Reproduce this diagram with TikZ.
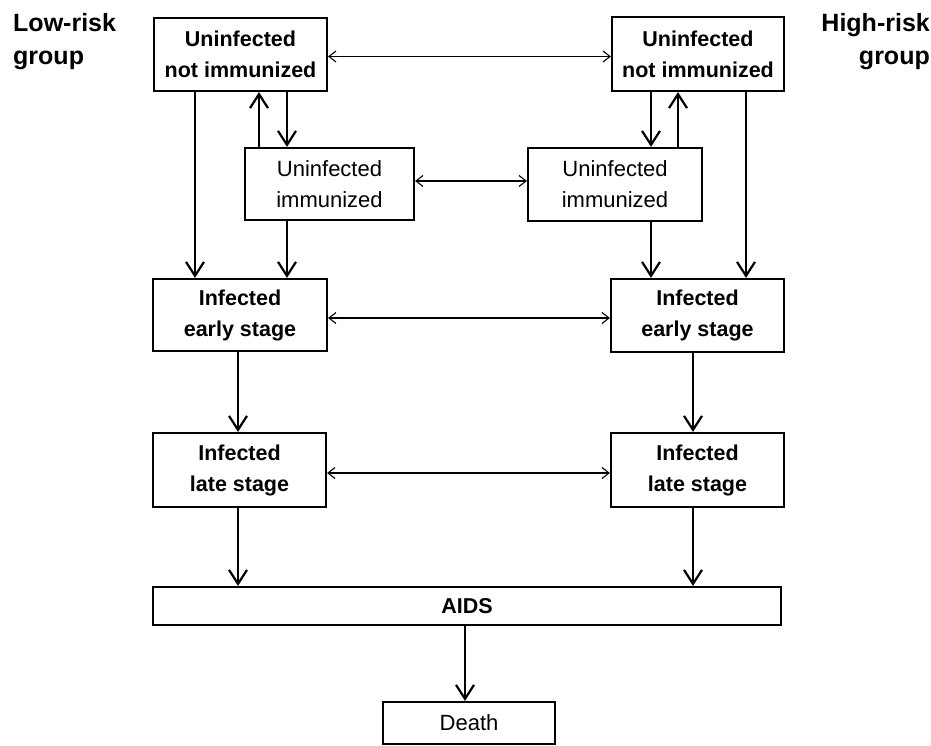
\documentclass[tikz,border=0pt]{standalone}
\usepackage{fontspec}
\setmainfont{Liberation Sans}
\usetikzlibrary{arrows.meta}
\begin{document}
\begin{tikzpicture}[x=1pt,y=-1pt,
  box/.style={draw,line width=2.2pt,inner sep=0pt,align=center},
  bbox/.style={box,font=\bfseries\fontsize{21.5}{31}\selectfont},
  rbox/.style={box,font=\fontsize{22}{31}\selectfont},
  grp/.style={font=\bfseries\fontsize{25}{33}\selectfont,inner sep=0pt},
  varrow/.style={line width=2pt,-{Straight Barb[length=14pt,width=18pt,line width=2.2pt]}},
  harrow/.style={line width=1.1pt,{Straight Barb[length=7pt,width=11pt,line width=1.1pt]}-{Straight Barb[length=7pt,width=11pt,line width=1.1pt]}}
]
\useasboundingbox (0,0) rectangle (931,746);
% boxes
\node[bbox,minimum width=173pt,minimum height=73pt] (luni) at (240.5,54.5) {Uninfected\\not immunized};
\node[bbox,minimum width=172pt,minimum height=74pt] (runi) at (698,54) {Uninfected\\not immunized};
\node[rbox,minimum width=169pt,minimum height=72pt] (limm) at (329.5,184) {Uninfected\\immunized};
\node[rbox,minimum width=174pt,minimum height=73pt] (rimm) at (615,184.5) {Uninfected\\immunized};
\node[bbox,minimum width=174pt,minimum height=72pt] (learly) at (240,315) {Infected\\early stage};
\node[bbox,minimum width=173pt,minimum height=73pt] (rearly) at (697.5,315.5) {Infected\\early stage};
\node[bbox,minimum width=173pt,minimum height=74pt] (llate) at (239.5,470) {Infected\\late stage};
\node[bbox,minimum width=173pt,minimum height=74pt] (rlate) at (697.5,470) {Infected\\late stage};
\node[bbox,minimum width=628pt,minimum height=38pt] (aids) at (467,606) {AIDS};
\node[rbox,minimum width=172pt,minimum height=42pt] (death) at (469,723) {Death};
% group labels
\node[grp,anchor=base west] (lowa) at (13,32) {Low-risk};
\node[grp,anchor=base west] (lowb) at (13,65) {group};
\node[grp,anchor=base east] (higha) at (930,32) {High-risk};
\node[grp,anchor=base east] (highb) at (930,65) {group};
% x positions of vertical connectors
\coordinate (x1) at (195,0);
\coordinate (x2) at (259,0);
\coordinate (x3) at (287,0);
\coordinate (x4) at (238,0);
\coordinate (x5) at (651,0);
\coordinate (x6) at (678,0);
\coordinate (x7) at (746,0);
\coordinate (x8) at (693,0);
\coordinate (x9) at (465,0);
% vertical arrows, low-risk
\draw[varrow] (luni.south -| x1) -- (learly.north -| x1);
\draw[varrow] (luni.south -| x3) -- (limm.north -| x3);
\draw[varrow] (limm.north -| x2) -- (luni.south -| x2);
\draw[varrow] (limm.south -| x3) -- (learly.north -| x3);
\draw[varrow] (learly.south -| x4) -- (llate.north -| x4);
\draw[varrow] (llate.south -| x4) -- (aids.north -| x4);
% vertical arrows, high-risk
\draw[varrow] (runi.south -| x5) -- (rimm.north -| x5);
\draw[varrow] (rimm.north -| x6) -- (runi.south -| x6);
\draw[varrow] (runi.south -| x7) -- (rearly.north -| x7);
\draw[varrow] (rimm.south -| x5) -- (rearly.north -| x5);
\draw[varrow] (rearly.south -| x8) -- (rlate.north -| x8);
\draw[varrow] (rlate.south -| x8) -- (aids.north -| x8);
\draw[varrow] (aids.south -| x9) -- (death.north -| x9);
% horizontal two-way arrows
\draw[harrow] ([yshift=-2pt]luni.east) -- ([yshift=-2pt]luni.east -| runi.west);
\draw[harrow] ([yshift=3pt]limm.east) -- ([yshift=3pt]limm.east -| rimm.west);
\draw[harrow] ([yshift=-3pt]learly.east) -- ([yshift=-3pt]learly.east -| rearly.west);
\draw[harrow] ([yshift=-3pt]llate.east) -- ([yshift=-3pt]llate.east -| rlate.west);
\end{tikzpicture}
\end{document}
